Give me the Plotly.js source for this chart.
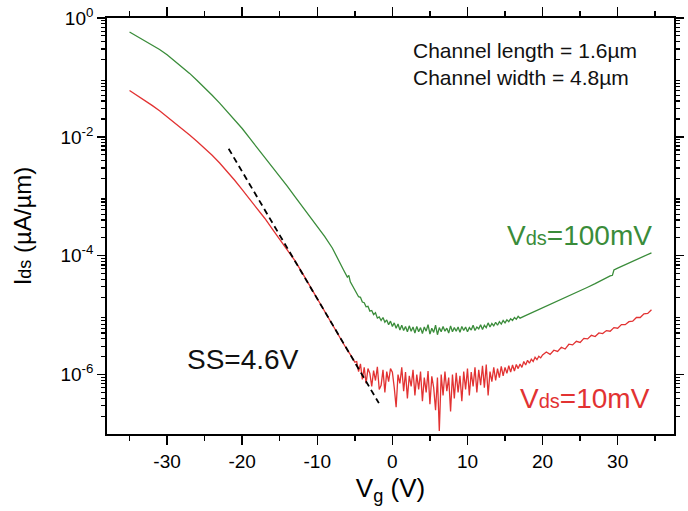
<!DOCTYPE html>
<html>
<head>
<meta charset="utf-8">
<script src="https://cdn.plot.ly/plotly-3.0.1.min.js"></script>
<style>html,body{margin:0;padding:0;background:#fff;}</style>
</head>
<body>
<div id="chart" style="width:688px;height:511px;"></div>
<script>
// Vds = 100 mV (green)
const vgGreen = [
  -35,-34,-33,-32,-31,-30,-29,-28,-27,-26,-25,-24,-23,-22,-21,-20,-19,-18,-17,-16,-15,-14,-13,-12,-11,-10,-9,-8,-7,
  -6.5,-6,-5.8,-5.6,-5.25,-5,
  -4.75,-4.5,-4.25,-4,-3.75,-3.5,-3.25,-3,-2.75,-2.5,-2.25,-2,-1.75,-1.5,-1.25,-1,-0.75,-0.5,-0.25,
  0,0.25,0.5,0.75,1,1.25,1.5,1.75,2,2.25,2.5,2.75,3,3.25,3.5,3.75,4,4.25,4.5,4.75,
  5,5.25,5.5,5.75,6,6.25,6.5,6.75,7,7.25,7.5,7.75,8,8.25,8.5,8.75,9,9.25,9.5,9.75,
  10,10.25,10.5,10.75,11,11.25,11.5,11.75,12,12.25,12.5,12.75,13,13.25,13.5,13.75,14,14.25,14.5,14.75,
  15,15.25,15.5,15.75,16,16.25,16.5,16.75,17,
  17.5,18,18.5,19,19.5,20,
  21,22,23,24,25,26,27,28,29,29.3,29.5,30,31,32,33,34,34.5
];
const idsGreen = [
  5.8e-1,4.9e-1,4.17e-1,3.55e-1,2.95e-1,2.4e-1,1.91e-1,1.51e-1,1.17e-1,8.9e-2,6.76e-2,5.0e-2,3.7e-2,2.7e-2,1.95e-2,1.38e-2,9.5e-3,6.6e-3,4.57e-3,3.16e-3,2.19e-3,1.48e-3,1.0e-3,6.76e-4,4.68e-4,3.16e-4,2.09e-4,1.35e-4,7.94e-5,
  5.75e-5,4.37e-5,4.68e-5,3.63e-5,3.02e-5,2.63e-5,
  2.40e-5,2.04e-5,2.00e-5,1.66e-5,1.62e-5,1.38e-5,1.41e-5,1.17e-5,1.20e-5,1.02e-5,1.10e-5,8.91e-6,9.33e-6,8.13e-6,9.12e-6,7.59e-6,8.32e-6,6.92e-6,7.94e-6,
  6.46e-6,7.41e-6,6.03e-6,7.08e-6,5.62e-6,6.76e-6,5.50e-6,6.46e-6,5.25e-6,6.61e-6,5.37e-6,6.31e-6,5.01e-6,6.46e-6,5.25e-6,6.17e-6,4.90e-6,6.31e-6,5.37e-6,6.92e-6,
  4.79e-6,6.03e-6,5.13e-6,6.76e-6,4.68e-6,6.17e-6,5.25e-6,6.46e-6,5.37e-6,6.03e-6,5.01e-6,6.61e-6,5.25e-6,6.17e-6,5.37e-6,6.31e-6,5.13e-6,6.46e-6,5.50e-6,6.31e-6,
  5.25e-6,6.17e-6,5.62e-6,6.76e-6,5.50e-6,6.31e-6,5.89e-6,6.92e-6,5.75e-6,6.76e-6,6.17e-6,7.41e-6,6.31e-6,7.24e-6,6.61e-6,7.59e-6,6.76e-6,7.76e-6,7.08e-6,8.13e-6,
  7.41e-6,8.32e-6,7.76e-6,8.71e-6,8.13e-6,9.12e-6,8.51e-6,9.55e-6,8.91e-6,
  9.55e-6,1.02e-5,1.07e-5,1.15e-5,1.23e-5,1.32e-5,
  1.48e-5,1.70e-5,1.95e-5,2.24e-5,2.57e-5,2.95e-5,3.39e-5,3.98e-5,4.57e-5,4.68e-5,5.75e-5,6.17e-5,7.08e-5,8.13e-5,9.33e-5,1.07e-4,1.12e-4
];

// Vds = 10 mV (red)
const vgRed = [
  -35,-34,-33,-32,-31,-30,-29,-28,-27,-26,-25,-24,-23,-22,-21,-20,-19,-18,-17,-16,-15,-14,-13,-12,-11,-10,-9,-8,-7,-6,-5.5,-5,
  -4.75,-4.5,-4.25,-4,-3.75,-3.5,-3.25,-3,-2.75,-2.5,-2.25,-2,-1.75,-1.5,-1.25,-1,-0.75,-0.5,-0.25,
  0,0.25,0.5,0.75,1,1.25,1.5,1.75,2,2.25,2.5,2.75,3,3.25,3.5,3.75,4,4.25,4.5,4.75,
  5,5.25,5.5,5.75,6,6.25,6.5,6.75,7,7.25,7.5,7.75,8,8.25,8.5,8.75,9,9.25,9.5,9.75,
  10,10.25,10.5,10.75,11,11.25,11.5,11.75,12,12.25,12.5,12.75,13,13.25,13.5,13.75,14,14.25,14.5,14.75,
  15,15.25,15.5,15.75,16,16.25,16.5,16.75,17,17.25,17.5,17.75,18,18.25,18.5,18.75,19,19.25,19.5,19.75,20,
  20.5,21,21.5,22,22.5,23,23.5,24,24.5,25,25.5,26,26.5,27,27.5,28,28.5,29,29.5,30,30.5,31,31.5,32,32.5,33,33.5,34,34.5
];
const idsRed = [
  6.03e-2,5.01e-2,4.17e-2,3.39e-2,2.75e-2,2.19e-2,1.74e-2,1.38e-2,1.07e-2,8.32e-3,6.46e-3,4.90e-3,3.63e-3,2.63e-3,1.86e-3,1.29e-3,8.91e-4,6.31e-4,4.27e-4,2.82e-4,1.86e-4,1.23e-4,8.32e-5,5.13e-5,3.09e-5,1.86e-5,1.15e-5,6.92e-6,4.27e-6,2.57e-6,2.09e-6,1.62e-6,
  1.66e-6,1.12e-6,1.51e-6,8.32e-7,1.32e-6,7.08e-7,1.26e-6,1.05e-6,6.31e-7,1.17e-6,7.94e-7,1.35e-6,5.62e-7,6.61e-7,1.20e-6,5.01e-7,1.12e-6,7.59e-7,1.26e-6,
  1.10e-6,6.03e-7,2.82e-7,1.00e-6,7.08e-7,1.32e-6,5.25e-7,1.10e-6,3.98e-7,9.55e-7,6.31e-7,1.20e-6,4.47e-7,1.00e-6,5.62e-7,1.12e-6,3.55e-7,8.91e-7,5.01e-7,1.15e-6,
  3.16e-7,9.33e-7,6.03e-7,2.51e-7,8.91e-7,1.12e-7,1.00e-6,4.47e-7,1.12e-6,5.25e-7,8.91e-7,2.40e-7,1.00e-6,3.98e-7,1.07e-6,5.01e-7,9.55e-7,3.55e-7,1.12e-6,5.62e-7,
  1.26e-6,4.47e-7,1.10e-6,6.31e-7,1.32e-6,5.01e-7,1.20e-6,6.61e-7,1.41e-6,6.03e-7,1.48e-6,4.47e-7,1.12e-6,7.59e-7,1.32e-6,7.94e-7,1.26e-6,8.91e-7,1.38e-6,9.55e-7,
  1.32e-6,1.05e-6,1.41e-6,1.10e-6,1.45e-6,1.15e-6,1.48e-6,1.26e-6,1.51e-6,1.32e-6,1.66e-6,1.45e-6,1.74e-6,1.55e-6,1.82e-6,1.66e-6,1.95e-6,1.78e-6,2.04e-6,1.91e-6,2.14e-6,
  2.40e-6,2.19e-6,2.57e-6,2.45e-6,2.88e-6,2.69e-6,3.24e-6,3.16e-6,3.63e-6,3.47e-6,4.07e-6,3.98e-6,4.57e-6,4.37e-6,5.01e-6,4.90e-6,5.50e-6,5.37e-6,6.17e-6,6.03e-6,6.92e-6,6.92e-6,7.76e-6,7.94e-6,9.12e-6,9.12e-6,1.05e-5,1.07e-5,1.23e-5
];

// Subthreshold-slope fit line (dashed)
const vgFit = [-21.8, -1.8];
const idsFit = [6.31e-3, 3.31e-7];

// Tick labels
const xTickVals = [-30, -20, -10, 0, 10, 20, 30];
const xTickText = ['-30', '-20', '-10', '0', '10', '20', '30'];
const xMinorVals = [-35, -25, -15, -5, 5, 15, 25, 35];
const yTickVals = [1e-6, 1e-4, 1e-2, 1];
const yTickText = ['10<sup>-6</sup>', '10<sup>-4</sup>', '10<sup>-2</sup>', '10<sup>0</sup>'];
const yOddDecades = [1e-7, 1e-5, 1e-3, 1e-1];

const yMinorVals = [];
for (let e = -7; e < 0; e++) {
  for (let m = 2; m <= 9; m++) yMinorVals.push(m * Math.pow(10, e));
}

const FONT = 'Liberation Sans, Arial, Helvetica, sans-serif';
const GREEN = '#3a8c3a';
const RED = '#e23232';

const traces = [
  {x: vgGreen, y: idsGreen, type: 'scatter', mode: 'lines', line: {color: GREEN, width: 1.3}, name: 'Vds=100mV'},
  {x: vgRed, y: idsRed, type: 'scatter', mode: 'lines', line: {color: RED, width: 1.3}, name: 'Vds=10mV'},
  {x: vgFit, y: idsFit, type: 'scatter', mode: 'lines', line: {color: '#000', width: 1.8, dash: '6px,4px'}, name: 'fit'}
];

const NB = '\u00A0';
const yCommon = {
  type: 'log', range: [-7, 0],
  ticks: 'outside', ticklen: 8, tickwidth: 1.5, tickcolor: '#000',
  showline: true, linecolor: '#000', linewidth: 1.8, mirror: 'ticks',
  showgrid: false, zeroline: false
};
const layout = {
  width: 688, height: 511,
  margin: {l: 107, r: 14, t: 18, b: 77, autoexpand: false},
  paper_bgcolor: '#fff', plot_bgcolor: '#fff',
  showlegend: false,
  font: {family: FONT, color: '#000', size: 18},
  xaxis: {
    range: [-38, 37.5],
    tickmode: 'array', tickvals: xTickVals, ticktext: xTickText,
    ticks: 'outside', ticklen: 9, tickwidth: 1.5, tickcolor: '#000',
    showline: true, linecolor: '#000', linewidth: 1.8, mirror: 'ticks',
    showgrid: false, zeroline: false,
    tickfont: {family: FONT, size: 19, color: '#000'},
    minor: {tickmode: 'array', tickvals: xMinorVals, ticks: 'outside', ticklen: 5, tickwidth: 1.5, tickcolor: '#000', showgrid: false},
    title: {text: 'V<sub>g</sub> (V)', font: {family: FONT, size: 26, color: '#000'}, standoff: 8}
  },
  yaxis: Object.assign({}, yCommon, {
    tickmode: 'array', tickvals: yTickVals, ticktext: yTickText,
    tickfont: {family: FONT, size: 19, color: '#000'},
    minor: {tickmode: 'array', tickvals: yMinorVals, ticks: 'outside', ticklen: 4, tickwidth: 1.2, tickcolor: '#000', showgrid: false},
    title: {text: NB.repeat(8) + 'I<span style="font-size:18px">ds</span> (µA/µm)', font: {family: FONT, size: 24, color: '#000'}, standoff: 22}
  }),
  yaxis2: Object.assign({}, yCommon, {
    overlaying: 'y', side: 'left', anchor: 'x',
    tickmode: 'array', tickvals: yOddDecades, showticklabels: false
  }),
  annotations: [
    {xref: 'paper', yref: 'paper', x: 0.536, y: 0.889, xanchor: 'left', yanchor: 'middle', align: 'left', showarrow: false,
     text: 'Channel length = 1.6µm<br>Channel width = 4.8µm', font: {family: FONT, size: 21, color: '#111'}},
    {xref: 'paper', yref: 'paper', x: 0.8325, y: 0.478, xanchor: 'center', yanchor: 'middle', showarrow: false,
     text: 'V<span style="font-size:20px">ds</span>=100mV', font: {family: FONT, size: 28, color: GREEN}},
    {xref: 'paper', yref: 'paper', x: 0.843, y: 0.086, xanchor: 'center', yanchor: 'middle', showarrow: false,
     text: 'V<span style="font-size:20px">ds</span>=10mV', font: {family: FONT, size: 28, color: RED}},
    {xref: 'paper', yref: 'paper', x: 0.239, y: 0.178, xanchor: 'center', yanchor: 'middle', showarrow: false,
     text: 'SS=4.6V', font: {family: FONT, size: 28, color: '#111'}}
  ]
};

Plotly.newPlot('chart', traces, layout, {displayModeBar: false, staticPlot: true});
</script>
</body>
</html>
